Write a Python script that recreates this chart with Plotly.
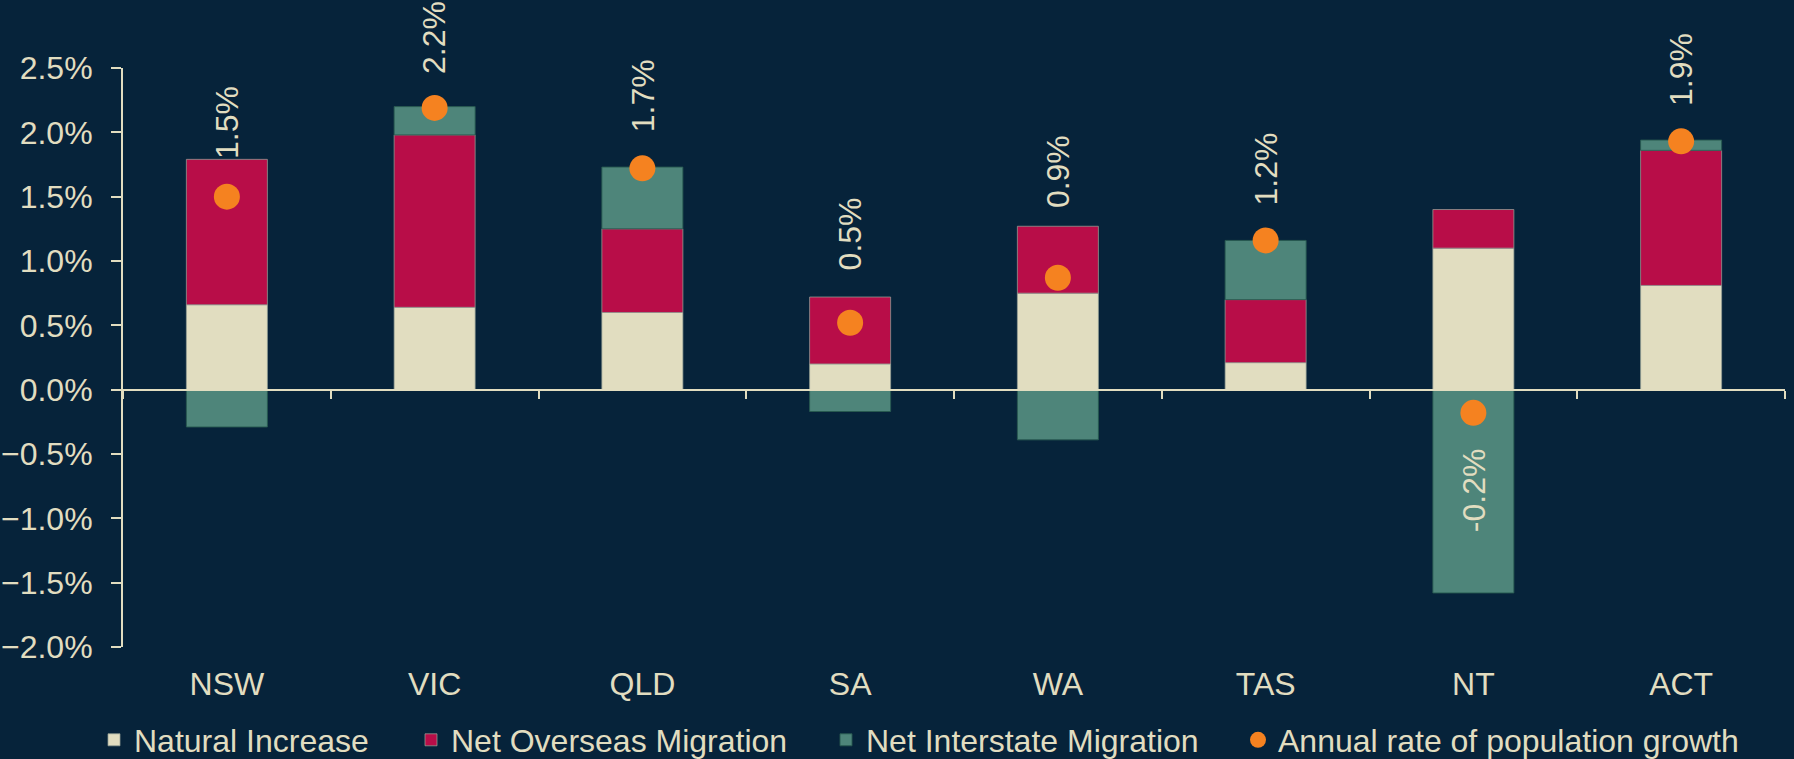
import plotly.graph_objects as go

states = ["NSW", "VIC", "QLD", "SA", "WA", "TAS", "NT", "ACT"]
natural_increase = [0.66, 0.64, 0.60, 0.20, 0.75, 0.21, 1.10, 0.81]
net_overseas = [1.13, 1.34, 0.65, 0.52, 0.52, 0.49, 0.30, 1.05]
net_interstate = [-0.29, 0.22, 0.48, -0.17, -0.39, 0.46, -1.58, 0.08]
growth_rate = [1.50, 2.19, 1.72, 0.52, 0.87, 1.16, -0.18, 1.93]
label_offsets = [36, 32, 34, 50, 68, 33, 33, 33]  # px gap between dot and label

BG = "#06233A"
CREAM = "#E1DDC0"
CRIMSON = "#B80D48"
TEAL = "#4E857A"
ORANGE = "#F58220"
FONT = "Liberation Sans, Arial, sans-serif"
FS = 32

W, H = 1794, 759
ML, MR, MT, MB = 123, 9, 68, 112
PW = W - ML - MR
PH = H - MT - MB
YMIN, YMAX = -2.0, 2.5

fig = go.Figure()
edge = dict(color="rgba(150,160,150,0.75)", width=1)
fig.add_trace(go.Bar(x=states, y=natural_increase, name="Natural Increase",
                     marker=dict(color=CREAM, line=edge), width=0.39,
                     legend="legend", hoverinfo="skip"))
fig.add_trace(go.Bar(x=states, y=net_overseas, name="Net Overseas Migration",
                     marker=dict(color=CRIMSON, line=edge), width=0.39,
                     legend="legend2", hoverinfo="skip"))
fig.add_trace(go.Bar(x=states, y=net_interstate, name="Net Interstate Migration",
                     marker=dict(color=TEAL, line=dict(color="rgba(40,90,80,0.9)", width=1)), width=0.39,
                     legend="legend3", hoverinfo="skip"))
fig.add_trace(go.Scatter(x=states, y=growth_rate, name="Annual rate of population growth",
                         mode="markers", marker=dict(color=ORANGE, size=26),
                         legend="legend4", hoverinfo="skip"))
# helper trace so the zero-line axis (x2) is rendered
fig.add_trace(go.Scatter(x=states, y=growth_rate, mode="none", xaxis="x2",
                         showlegend=False, hoverinfo="skip"))

for s, g, off in zip(states, growth_rate, label_offsets):
    fig.add_annotation(x=s, y=g, text=f"{g:.1f}%", textangle=-90, showarrow=False,
                       yanchor="bottom" if g >= 0 else "top",
                       yshift=off if g >= 0 else -off,
                       font=dict(family=FONT, size=FS, color=CREAM))

def px_to_paper_x(px):
    return (px - ML) / PW

def px_to_paper_y(py):
    return (H - MB - py) / PH

legend_common = dict(orientation="h", font=dict(family=FONT, size=FS, color=CREAM),
                     bgcolor="rgba(0,0,0,0)", xanchor="left", yanchor="middle",
                     y=px_to_paper_y(740))
text_starts = [139, 456, 871, 1283]
legend_layout = {}
for i, ts in enumerate(text_starts):
    key = "legend" if i == 0 else f"legend{i+1}"
    legend_layout[key] = dict(legend_common, x=px_to_paper_x(ts - 45))

fig.update_layout(
    width=W, height=H,
    margin=dict(l=ML, r=MR, t=MT, b=MB, autoexpand=False),
    paper_bgcolor=BG, plot_bgcolor=BG,
    barmode="relative",
    showlegend=True,
    font=dict(family=FONT, size=FS, color=CREAM),
    xaxis=dict(type="category", categoryorder="array", categoryarray=states,
               range=[-0.5, 7.5], showline=False, showgrid=False, zeroline=False,
               ticks="", tickfont=dict(family=FONT, size=FS, color=CREAM),
               ticklabelstandoff=15),
    xaxis2=dict(type="category", categoryorder="array", categoryarray=states,
                range=[-0.5, 7.5], overlaying="x", anchor="free",
                position=(0 - YMIN) / (YMAX - YMIN),
                showline=True, linecolor=CREAM, linewidth=2,
                ticks="outside", tickson="boundaries", ticklen=8, tickwidth=2,
                tickcolor=CREAM, showticklabels=False, showgrid=False, zeroline=False),
    yaxis=dict(range=[YMIN, YMAX], dtick=0.5, tick0=0, tickformat=".1f", ticksuffix="%",
               showline=True, linecolor=CREAM, linewidth=2, ticks="outside",
               ticklen=10, tickwidth=2, tickcolor=CREAM, showgrid=False, zeroline=False,
               tickfont=dict(family=FONT, size=FS, color=CREAM), ticklabelstandoff=12),
    **legend_layout,
)

fig.write_html(
    "out.html",
    config={"displayModeBar": False},
    post_script="document.body.style.margin='0';document.body.style.background='" + BG + "';",
)
